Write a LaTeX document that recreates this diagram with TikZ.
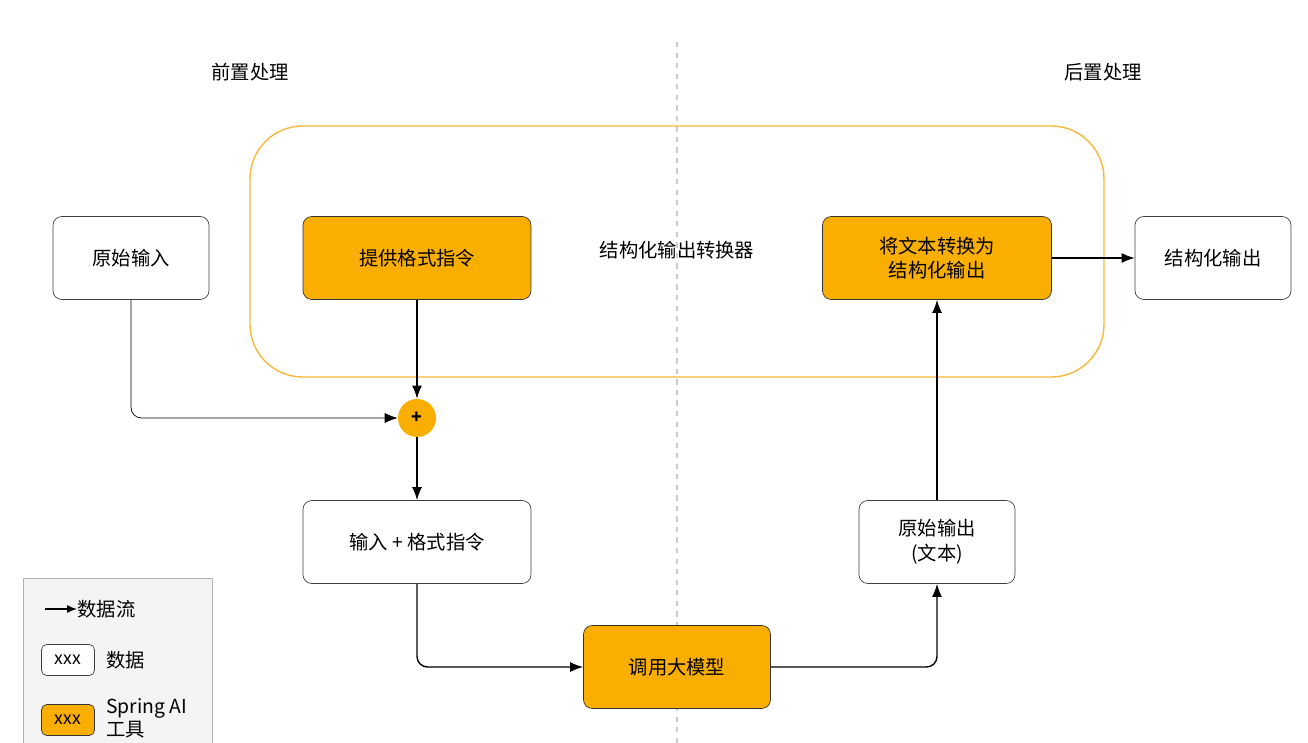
\documentclass[tikz,border=0pt]{standalone}
\usepackage{fontspec}
\setmainfont{Noto Sans CJK SC}
\usetikzlibrary{positioning,arrows.meta}
\definecolor{aiorange}{HTML}{FAAE00}
\definecolor{frameorange}{HTML}{F6B93B}
\definecolor{legendgray}{HTML}{F4F4F4}
\tikzset{
  data/.style={draw=black!75,rounded corners=5pt,fill=white,minimum width=3.12cm,minimum height=1.66cm,align=center,font=\fontsize{11}{14}\selectfont},
  tool/.style={data,fill=aiorange,draw=black!80},
  flow/.style={-{Latex[length=2.6mm,width=2mm]},thick,rounded corners=6pt},
}
\begin{document}
\begin{tikzpicture}[x={0.02cm},y={-0.02cm}]
  \useasboundingbox (0,0) rectangle (1308,743);

  \draw[gray!40,dashed,thick] (677,42)--(677,743); % divider
  \node[font=\fontsize{11}{14}\selectfont] (pre) at (250,72) {前置处理};
  \node[font=\fontsize{11}{14}\selectfont] (post) at (1103,72) {后置处理};

  \draw[frameorange,thick,rounded corners=30pt] (250,126) rectangle (1104,377); % converter
  \node[font=\fontsize{11}{14}\selectfont] (conv) at (677,250) {结构化输出转换器};

  \node[data] (rawin) at (131,258) {原始输入};
  \node[tool,minimum width=4.56cm] (fmt) at (417,258) {提供格式指令};
  \node[tool,minimum width=4.58cm] (parse) at (937,258) {将文本转换为\\结构化输出};
  \node[data] (out) at (1213,258) {结构化输出};
  \node[circle,fill=aiorange,minimum size=0.76cm,inner sep=0pt,font=\bfseries] (plus) at (417,418) {+};
  \node[data,minimum width=4.56cm] (prompt) at (417,542) {输入 + 格式指令};
  \node[tool,minimum width=3.74cm] (llm) at (677,667) {调用大模型};
  \node[data] (rawout) at (937,542) {原始输出\\(文本)};

  \draw[flow,thin] (rawin.south) |- (plus.west);
  \draw[flow] (fmt.south) -- (plus.north);
  \draw[flow] (plus.south) -- (prompt.north);
  \draw[flow] (prompt.south) |- (llm.west);
  \draw[flow] (llm.east) -| (rawout.south);
  \draw[flow] (rawout.north) -- (parse.south);
  \draw[flow] (parse.east) -- (out.west);

  % legend
  \draw[gray!60,fill=legendgray] (23,578) rectangle (212,760);
  \coordinate (la) at (45,609);
  \coordinate (lb) at (77,609);
  \draw[-{Latex[length=2mm,width=1.6mm]},thick] (la)--(lb);
  \node[anchor=west,inner sep=0pt,font=\fontsize{11}{14}\selectfont] (lflow) at (77,609) {数据流};
  \node[data,minimum width=1.06cm,minimum height=0.62cm,font=\fontsize{10}{12}\selectfont,rounded corners=3pt] (ldata) at (68,660) {xxx};
  \node[anchor=west,font=\fontsize{11}{14}\selectfont] (ldatat) at (100,660) {数据};
  \node[tool,minimum width=1.06cm,minimum height=0.62cm,font=\fontsize{10}{12}\selectfont,rounded corners=3pt] (ltool) at (68,720) {xxx};
  \node[anchor=west,align=left,font=\fontsize{11}{13}\selectfont] (ltoolt) at (100,718) {Spring AI\\工具};
\end{tikzpicture}
\end{document}
